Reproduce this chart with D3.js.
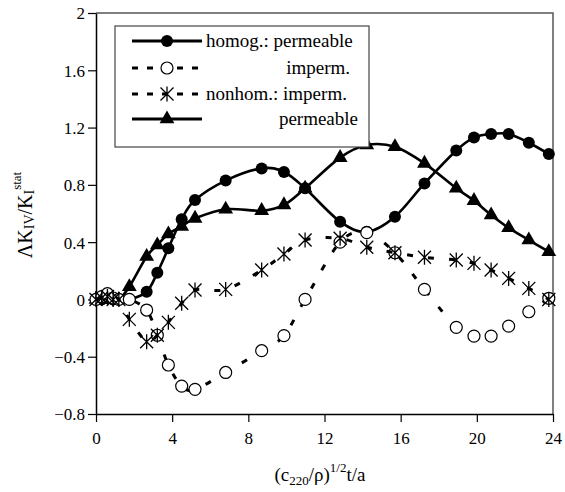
<!DOCTYPE html>
<html><head><meta charset="utf-8">
<script src="https://cdn.jsdelivr.net/npm/d3@7"></script>
<style>body{margin:0;background:#fff}svg{display:block}
svg text{font-family:"Liberation Serif","Times New Roman",Times,"DejaVu Serif",serif !important;}</style>
</head><body>
<svg id="c" width="565" height="492"></svg>
<script>
const tVals = [0, 0.3, 0.6, 0.9, 1.2, 1.75, 2.66, 3.22, 3.8, 4.5, 5.2, 6.81, 8.7, 9.87, 10.98, 12.82, 14.22, 15.7, 17.25, 18.92, 19.85, 20.75, 21.67, 22.73, 23.78];
const homogPerm   = [0, 0.0, 0.01, 0.0, 0.0, 0.0, 0.054, 0.186, 0.357, 0.56, 0.694, 0.83, 0.915, 0.89, 0.776, 0.543, 0.473, 0.578, 0.81, 1.04, 1.13, 1.155, 1.155, 1.094, 1.015];
const homogImperm = [0, 0.02, 0.04, 0.01, 0.0, 0.0, -0.074, -0.25, -0.458, -0.605, -0.628, -0.51, -0.358, -0.253, 0.0, 0.40, 0.466, 0.326, 0.07, -0.195, -0.256, -0.256, -0.186, -0.086, 0.008];
const nonhomImperm= [0, 0.01, 0.02, 0.0, 0.0, -0.139, -0.295, -0.25, -0.16, -0.027, 0.066, 0.07, 0.205, 0.317, 0.415, 0.427, 0.364, 0.326, 0.294, 0.275, 0.252, 0.205, 0.147, 0.077, 0.0];
const nonhomPerm  = [0, 0.0, 0.01, 0.0, 0.0, 0.089, 0.30, 0.38, 0.457, 0.51, 0.566, 0.63, 0.62, 0.66, 0.776, 0.99, 1.078, 1.066, 0.95, 0.776, 0.69, 0.59, 0.50, 0.415, 0.333];
const xTicks = [0, 4, 8, 12, 16, 20, 24];
const yTicks = [-0.8, -0.4, 0, 0.4, 0.8, 1.2, 1.6, 2];
const legendLabels = ["homog.: permeable", "imperm.", "nonhom.: imperm.", "permeable"];

const svg = d3.select("#c");
const FONT = "Liberation Serif";
const x = d3.scaleLinear().domain([0, 24]).range([96, 553]);
const y = d3.scaleLinear().domain([-0.8, 2]).range([414, 13]);

svg.append("path").attr("d", `M${x(0)},${y(2)}H${x(24)}V${y(-0.8)}`).attr("fill", "none").attr("stroke", "#555").attr("stroke-width", 1.5);

const xa = svg.append("g").attr("transform", `translate(0,${y(-0.8)})`)
  .call(d3.axisBottom(x).tickValues(xTicks).tickSize(8).tickSizeOuter(0).tickFormat(d3.format("d")));
const ya = svg.append("g").attr("transform", `translate(${x(0)},0)`)
  .call(d3.axisLeft(y).tickValues(yTicks).tickSize(8).tickSizeOuter(0).tickFormat(d => d === 0 ? "0" : d3.format(".1f")(d).replace(/\.0$/, "")));
[xa, ya].forEach(a => {
  a.attr("font-family", FONT);
  a.select(".domain").attr("stroke", "#000").attr("stroke-width", 1.5);
  a.selectAll(".tick line").attr("stroke", "#000").attr("stroke-width", 1.2);
  a.selectAll("text").attr("font-family", FONT).attr("font-size", 17).attr("fill", "#000");
});
xa.selectAll("text").attr("dy", null).attr("y", 30);
ya.selectAll("text").attr("x", -11).attr("dy", "0.35em");

const line = d3.line().x(d => x(d[0])).y(d => y(d[1])).curve(d3.curveCatmullRom.alpha(0));
const mk = arr => tVals.map((t, i) => [t, arr[i]]);

const astPath = "M0,-7.5V7.5M-6.5,-6.5L6.5,6.5M-6.5,6.5L6.5,-6.5";

function drawMarker(g, type, cx, cy) {
  if (type === "dot") g.append("circle").attr("cx", cx).attr("cy", cy).attr("r", 6).attr("fill", "#000");
  else if (type === "open") g.append("circle").attr("cx", cx).attr("cy", cy).attr("r", 6).attr("fill", "#fff").attr("stroke", "#000").attr("stroke-width", 1.2);
  else if (type === "tri") g.append("path").attr("d", d3.symbol(d3.symbolTriangle, 95)()).attr("transform", `translate(${cx},${cy})`).attr("fill", "#000");
  else if (type === "ast") g.append("path").attr("d", astPath).attr("transform", `translate(${cx},${cy})`).attr("fill", "none").attr("stroke", "#000").attr("stroke-width", 1.3);
}

const series = [
  {vals: nonhomPerm, dash: null, type: "tri"},
  {vals: homogPerm, dash: null, type: "dot"},
  {vals: homogImperm, dash: "6,15", type: "open"},
  {vals: nonhomImperm, dash: "6,15", type: "ast"}
];
series.forEach(s => {
  const g = svg.append("g");
  g.append("path").datum(mk(s.vals)).attr("d", line).attr("fill", "none").attr("stroke", "#000")
    .attr("stroke-width", s.dash ? 3 : 2.6).attr("stroke-dasharray", s.dash);
  mk(s.vals).forEach(p => drawMarker(g, s.type, x(p[0]), y(p[1])));
});

const lg = svg.append("g");
lg.append("rect").attr("x", 115).attr("y", 26).attr("width", 254).attr("height", 121).attr("fill", "#fff").attr("stroke", "#444").attr("stroke-width", 1.2);
const legendDefs = [
  {type: "dot", dash: null, y: 41, anchor: "start", tx: 206},
  {type: "open", dash: "6,9", y: 68, anchor: "end", tx: 350},
  {type: "ast", dash: "6,9", y: 94, anchor: "start", tx: 206},
  {type: "tri", dash: null, y: 119, anchor: "end", tx: 358}
];
legendDefs.forEach((d, i) => {
  lg.append("line").attr("x1", 132).attr("x2", 202).attr("y1", d.y).attr("y2", d.y).attr("stroke", "#000").attr("stroke-width", 3).attr("stroke-dasharray", d.dash);
  drawMarker(lg, d.type, 167, d.y);
  lg.append("text").attr("x", d.tx).attr("y", d.y).attr("dy", "0.32em").attr("text-anchor", d.anchor)
    .attr("font-family", FONT).attr("font-size", 19).text(legendLabels[i]);
});

const yl = svg.append("text").attr("transform", "translate(32,215) rotate(-90)").attr("text-anchor", "middle").attr("font-family", FONT).attr("font-size", 20);
yl.append("tspan").text("ΛK");
yl.append("tspan").attr("font-size", 14).attr("dy", 2).text("IV");
yl.append("tspan").attr("dy", -2).text("/K");
yl.append("tspan").attr("font-size", 14).attr("dy", 2).text("I");
yl.append("tspan").attr("font-size", 13).attr("dy", -13).text("stat");

const xl = svg.append("text").attr("x", 320).attr("y", 481).attr("text-anchor", "middle").attr("font-family", FONT).attr("font-size", 19);
xl.append("tspan").text("(c");
xl.append("tspan").attr("font-size", 13).attr("dy", 4).text("220");
xl.append("tspan").attr("dy", -4).text("/ρ)");
xl.append("tspan").attr("font-size", 13).attr("dy", -9).text("1/2");
xl.append("tspan").attr("dy", 9).text("t/a");
</script>
</body></html>
